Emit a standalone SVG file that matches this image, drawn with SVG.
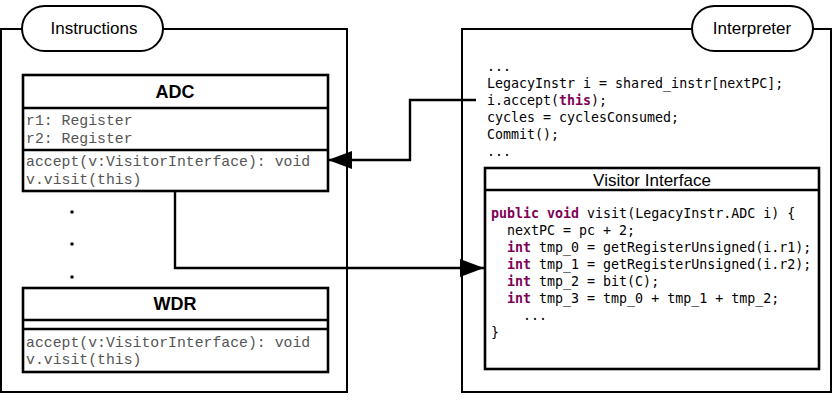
<svg xmlns="http://www.w3.org/2000/svg" width="834" height="400" viewBox="0 0 834 400">
<defs>
<style>
.frame{fill:none;stroke:#000;stroke-width:2}
.pill{fill:#fff;stroke:#000;stroke-width:2}
.box{fill:#fff;stroke:#000;stroke-width:2.6}
.sep{stroke:#000;stroke-width:2.6}
.lbl{font-family:"Liberation Sans",Arial,sans-serif;font-size:17px;fill:#000}
.hdr{font-family:"Liberation Sans",Arial,sans-serif;font-size:18px;font-weight:bold;fill:#000}
.uml{font-family:"Liberation Mono","Courier New",monospace;font-size:14.8px;fill:#555}
.code{font-family:"DejaVu Sans Mono",monospace;font-size:13.3px;fill:#000;white-space:pre}
.kw{fill:#7f0055;font-weight:bold}
.conn{fill:none;stroke:#000;stroke-width:2.4}
</style>
<marker id="arr" markerUnits="userSpaceOnUse" markerWidth="24" markerHeight="18" refX="24" refY="9" orient="auto">
<path d="M0,0 L24,9 L0,18 Z" fill="#000"/>
</marker>
</defs>

<g id="instructions">
<rect class="frame" x="1" y="29" width="346" height="363"/>
<rect class="pill" x="22" y="6" width="141" height="45" rx="22.5" ry="22.5"/>
<text class="lbl" x="94" y="34" text-anchor="middle">Instructions</text>
</g>

<g id="interpreter">
<rect class="frame" x="462" y="29" width="369" height="363"/>
<rect class="pill" x="692" y="6" width="121" height="45" rx="22.5" ry="22.5"/>
<text class="lbl" x="752" y="34" text-anchor="middle">Interpreter</text>
<text class="code" x="487" y="71">...</text>
<text class="code" x="487" y="88">LegacyInstr i = shared_instr[nextPC];</text>
<text class="code" x="487" y="105">i.accept(<tspan class="kw">this</tspan>);</text>
<text class="code" x="487" y="122">cycles = cyclesConsumed;</text>
<text class="code" x="487" y="139">Commit();</text>
<text class="code" x="487" y="156">...</text>
</g>

<g id="adc">
<rect class="box" x="23" y="75" width="305" height="116"/>
<line class="sep" x1="23" y1="108" x2="328" y2="108"/>
<line class="sep" x1="23" y1="150" x2="328" y2="150"/>
<text class="hdr" x="175" y="98" text-anchor="middle">ADC</text>
<text class="uml" x="26" y="125">r1: Register</text>
<text class="uml" x="26" y="143">r2: Register</text>
<text class="uml" x="26" y="166">accept(v:VisitorInterface): void</text>
<text class="uml" x="26" y="184">v.visit(this)</text>
</g>

<g id="ellipsis">
<rect x="70.5" y="210.5" width="3" height="3" fill="#000"/>
<rect x="70.5" y="242.5" width="3" height="3" fill="#000"/>
<rect x="70.5" y="275.5" width="3" height="3" fill="#000"/>
</g>

<g id="wdr">
<rect class="box" x="23" y="288" width="305" height="84"/>
<line class="sep" x1="23" y1="320" x2="328" y2="320"/>
<line class="sep" x1="23" y1="329" x2="328" y2="329"/>
<text class="hdr" x="175" y="310" text-anchor="middle">WDR</text>
<text class="uml" x="26" y="347">accept(v:VisitorInterface): void</text>
<text class="uml" x="26" y="364">v.visit(this)</text>
</g>

<g id="visitor">
<rect class="box" x="485" y="168" width="334" height="201"/>
<line class="sep" x1="485" y1="190" x2="819" y2="190"/>
<text class="lbl" x="652" y="186" text-anchor="middle">Visitor Interface</text>
<text class="code" x="491" y="218"><tspan class="kw">public</tspan> <tspan class="kw">void</tspan> visit(LegacyInstr.ADC i) {</text>
<text class="code" x="491" y="235">  nextPC = pc + 2;</text>
<text class="code" x="491" y="252">  <tspan class="kw">int</tspan> tmp_0 = getRegisterUnsigned(i.r1);</text>
<text class="code" x="491" y="269">  <tspan class="kw">int</tspan> tmp_1 = getRegisterUnsigned(i.r2);</text>
<text class="code" x="491" y="286">  <tspan class="kw">int</tspan> tmp_2 = bit(C);</text>
<text class="code" x="491" y="303">  <tspan class="kw">int</tspan> tmp_3 = tmp_0 + tmp_1 + tmp_2;</text>
<text class="code" x="491" y="320">    ...</text>
<text class="code" x="491" y="337">}</text>
</g>

<g id="connectors">
<path class="conn" d="M175,191 V268 H484" marker-end="url(#arr)"/>
<path class="conn" d="M476,100 H410 V160 H328" marker-end="url(#arr)"/>
</g>
</svg>
